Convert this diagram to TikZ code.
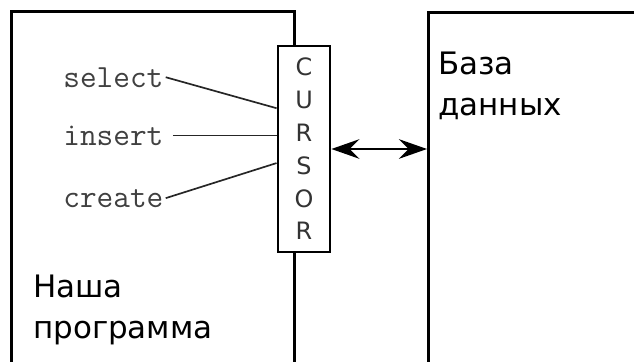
\documentclass[tikz,border=0pt]{standalone}
\usepackage{fontspec}
\setmainfont{DejaVu Sans}
\usetikzlibrary{arrows.meta,positioning}

\begin{document}
\begin{tikzpicture}[
    x=0.025cm, y=-0.025cm,
    panel/.style={
        draw,
        line width=2pt,
        anchor=north west,
        inner sep=0pt
    },
    cmd/.style={
        anchor=base west,
        inner sep=1.5pt,
        text=black!75,
        font=\ttfamily\fontsize{23}{27}\selectfont
    },
    caption/.style={
        anchor=north west,
        inner sep=0pt,
        align=left,
        font=\fontsize{22}{29}\selectfont
    },
    link/.style={
        line width=1.2pt,
        black!85
    }
]
    \useasboundingbox (0,0) rectangle (634,362);
    \clip (0,0) rectangle (634,362);

    % both panels run on below the page
    \node[panel, minimum width=7.075cm, minimum height=10cm] (prog) at (10,10) {};
    \node[panel, minimum width=6cm, minimum height=10cm] (db) at (427,11) {};

    % cursor sits over the right edge of the program
    \node[
        draw,
        fill=white,
        line width=2pt,
        minimum width=1.3cm,
        minimum height=5.15cm,
        align=center,
        text=black!80,
        font=\fontsize{17}{23.3}\selectfont
    ] (cursor) at (304,149) {C\\U\\R\\S\\O\\R};

    \node[cmd] (sel) at (61,87) {select};
    \node[cmd] (ins) at (61,145) {insert};
    \node[cmd] (cre) at (61,207) {create};

    \draw[link] (sel.east) -- ([yshift=29pt]cursor.west);
    \draw[link] ([xshift=5pt]ins.east) -- (ins.east -| cursor.west);
    \draw[link] (cre.east) -- ([yshift=-10pt]cursor.west);

    \draw[
        {Stealth[length=20pt, width=14pt, inset=7pt]}-{Stealth[length=20pt, width=14pt, inset=7pt]},
        line width=1.2pt
    ] (cursor.east) -- (cursor.east -| db.west);

    \node[caption] (progname) at (33,275) {Наша\\программа};
    \node[caption] (dbname) at (438,52) {База\\данных};
\end{tikzpicture}
\end{document}
